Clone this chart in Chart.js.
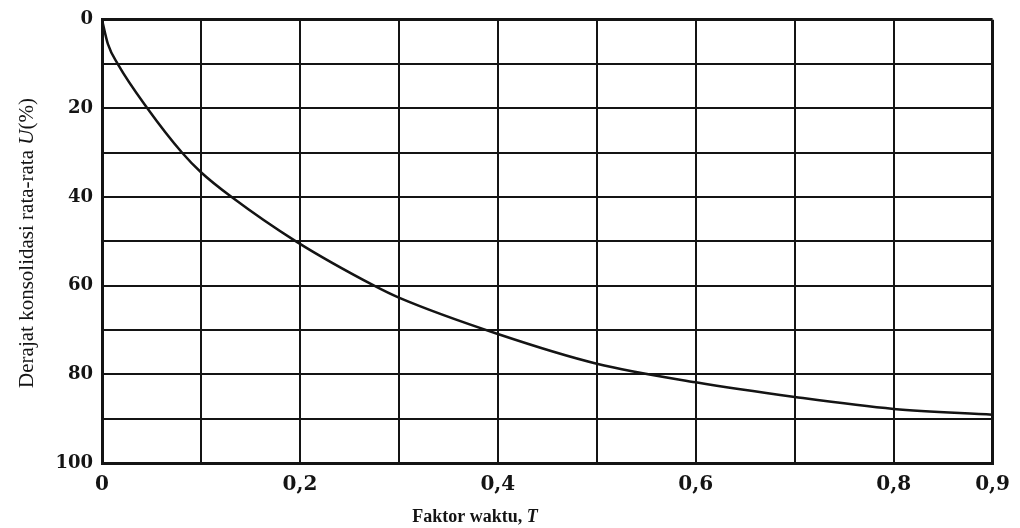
<!DOCTYPE html>
<html>
<head>
<meta charset="utf-8">
<script src="https://cdn.jsdelivr.net/npm/chart.js@4"></script>
<style>
  body { margin: 0; background: #fff; }
  #wrap { width: 1020px; height: 528px; }
</style>
</head>
<body>
<div id="wrap"><canvas id="konsolidasi" width="1020" height="528"></canvas></div>
<script>
// values
const waktuT = [0, 0.006, 0.016, 0.046, 0.081, 0.1, 0.131, 0.196, 0.275, 0.3, 0.4, 0.5, 0.6, 0.7, 0.8, 0.9];
const derajatU = [0, 5.5, 10, 20, 30, 34.4, 40, 50, 60, 62.7, 70.9, 77.6, 81.8, 85.1, 87.8, 89.1];
const xTickLabels = { 0: '0', 2: '0,2', 4: '0,4', 6: '0,6', 8: '0,8', 9: '0,9' };
const yTickValues = [0, 20, 40, 60, 80, 100];

const points = waktuT.map((t, i) => ({ x: t, y: derajatU[i] }));
const ink = '#141414';
const serif = "'DejaVu Serif', 'Liberation Serif', serif";
const serif2 = "'Liberation Serif', 'DejaVu Serif', serif";

// axis titles, drawn by hand so T and U can be italic
const titlePlugin = {
    id: 'judul',
    afterDraw(chart) {
        const ctx = chart.ctx;
        ctx.save();
        ctx.fillStyle = ink;
        ctx.textBaseline = 'middle';
        ctx.textAlign = 'left';

        // x title
        const a = 'Faktor waktu, ';
        ctx.font = 'bold 18px ' + serif2;
        const wa = ctx.measureText(a).width;
        ctx.font = 'bold italic 18px ' + serif2;
        const wb = ctx.measureText('T').width;
        const x0 = 475 - (wa + wb) / 2;
        ctx.font = 'bold 18px ' + serif2;
        ctx.fillText(a, x0, 517);
        ctx.font = 'bold italic 18px ' + serif2;
        ctx.fillText('T', x0 + wa, 517);

        // y title, rotated
        const p1 = 'Derajat konsolidasi rata-rata ';
        const size = 21;
        ctx.translate(27, 243);
        ctx.rotate(-Math.PI / 2);
        ctx.font = size + 'px ' + serif2;
        const w1 = ctx.measureText(p1).width;
        const w3 = ctx.measureText('(%)').width;
        ctx.font = 'italic ' + size + 'px ' + serif2;
        const w2 = ctx.measureText('U').width;
        const s = -(w1 + w2 + w3) / 2;
        ctx.font = size + 'px ' + serif2;
        ctx.fillText(p1, s, 0);
        ctx.fillText('(%)', s + w1 + w2, 0);
        ctx.font = 'italic ' + size + 'px ' + serif2;
        ctx.fillText('U', s + w1, 0);
        ctx.restore();
    }
};

new Chart(document.getElementById('konsolidasi'), {
    type: 'scatter',
    data: {
        datasets: [{
            data: points,
            showLine: true,
            borderColor: ink,
            borderWidth: 2.5,
            pointRadius: 0,
            cubicInterpolationMode: 'monotone',
            fill: false
        }]
    },
    options: {
        responsive: false,
        animation: false,
        layout: { padding: { top: 15, right: 22, left: 0, bottom: 0 } },
        plugins: { legend: { display: false }, tooltip: { enabled: false } },
        scales: {
            x: {
                type: 'linear',
                min: 0,
                max: 0.9,
                afterFit(scale) { scale.height = 65; },
                afterBuildTicks(scale) {
                    scale.ticks = [0, 1, 2, 3, 4, 5, 6, 7, 8, 9].map(v => ({ value: v / 10 }));
                },
                grid: {
                    color: ink,
                    lineWidth: c => (c.index === 0 || c.index === 9) ? 3 : 2,
                    drawTicks: false
                },
                border: { display: true, color: ink, width: 3 },
                ticks: {
                    padding: 10,
                    color: ink,
                    font: { family: serif, size: 20, weight: 'bold' },
                    maxRotation: 0,
                    autoSkip: false,
                    callback: v => xTickLabels[Math.round(v * 10)] || ''
                }
            },
            y: {
                type: 'linear',
                min: 0,
                max: 100,
                reverse: true,
                afterFit(scale) { scale.width = 102; },
                ticks: {
                    stepSize: 10,
                    padding: 9,
                    color: ink,
                    font: { family: serif, size: 18, weight: 'bold' },
                    callback: v => yTickValues.includes(v) ? String(v) : ''
                },
                grid: {
                    color: ink,
                    lineWidth: c => (c.tick.value === 0 || c.tick.value === 100) ? 3 : 2,
                    drawTicks: false
                },
                border: { display: true, color: ink, width: 3 }
            }
        }
    },
    plugins: [titlePlugin]
});
</script>
</body>
</html>
